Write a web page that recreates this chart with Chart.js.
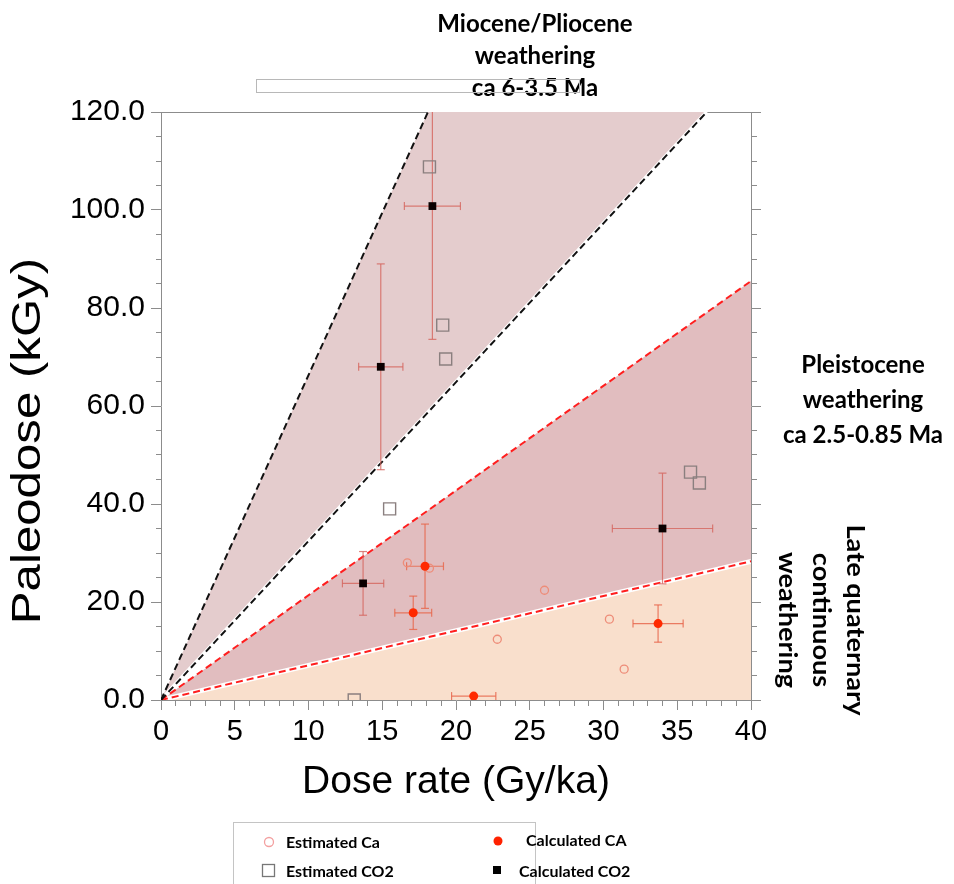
<!DOCTYPE html>
<html>
<head>
<meta charset="utf-8">
<title>Paleodose x Dose rate</title>
<script src="https://cdn.jsdelivr.net/npm/chart.js@4.4.1/dist/chart.umd.min.js"></script>
<style>
  html, body { margin: 0; padding: 0; background: #fff; }
  #grafico { display: block; }
</style>
</head>
<body>
<canvas id="grafico" width="954" height="884"></canvas>
<script>
// Dados
const calcCO2X = [18.4, 14.9, 13.7, 34.0];
const calcCO2Y = [100.8, 68.0, 23.8, 35.0];
const calcCO2ErrX = [1.9, 1.5, 1.4, 3.4];
const calcCO2ErrY = [27.2, 21.0, 6.5, 11.3];

const calcCaX = [17.9, 17.1, 21.2, 33.7];
const calcCaY = [27.3, 17.8, 0.8, 15.6];
const calcCaErrX = [1.25, 1.25, 1.5, 1.7];
const calcCaErrY = [8.6, 3.4, 0, 3.8];

const estCaX = [16.7, 18.2, 26.0, 22.8, 30.4, 31.4];
const estCaY = [28.0, 26.9, 22.4, 12.4, 16.5, 6.3];

const estCO2X = [18.2, 19.1, 19.3, 15.5, 35.9, 36.5, 13.1];
const estCO2Y = [108.8, 76.5, 69.6, 39.0, 46.5, 44.3, 0.0];

// linhas que saem da origem (ponto final de cada uma)
// 0 = Miocene sup, 1 = Miocene inf, 2 = Pleistocene sup, 3 = Pleistocene inf
const boundEndX = [18.1, 37.0, 40, 40];
const boundEndY = [120, 120, 85.5, 28.3];

const xTickLabels = [0, 5, 10, 15, 20, 25, 30, 35, 40];
const yTickLabels = [0, 20, 40, 60, 80, 100, 120];

// helpers
const pts = (xs, ys) => xs.map((x, i) => ({ x: x, y: ys[i] }));
const origem = { x: 0, y: 0 };
const fim = i => ({ x: boundEndX[i], y: boundEndY[i] });

function errorSegs(xs, ys, ex, ey) {
    const out = [];
    xs.forEach((x, i) => {
        out.push({ x: x - ex[i], y: ys[i], r: 90 }, { x: x + ex[i], y: ys[i], r: 90 }, { x: null, y: null });
        if (ey[i] > 0) {
            out.push({ x: x, y: ys[i] - ey[i], r: 0 }, { x: x, y: ys[i] + ey[i], r: 0 }, { x: null, y: null });
        }
    });
    return out;
}

function areaDs(data, color) {
    return { data: data, showLine: true, fill: 'shape', backgroundColor: color, borderWidth: 0, pointRadius: 0, order: 6 };
}

function lineDs(i, color, width, dash, order) {
    return { data: [origem, fim(i)], showLine: true, borderColor: color, borderWidth: width, borderDash: dash, pointRadius: 0, fill: false, order: order };
}

function errDs(data, color) {
    return {
        data: data, showLine: true, borderColor: color, borderWidth: 1.2, fill: false,
        pointStyle: 'line', pointRadius: 4, pointBorderColor: color, pointBorderWidth: 1.2,
        pointRotation: c => (c.raw && c.raw.r) || 0,
        clip: 0, order: 2
    };
}

const datasets = [
    // pontos
    { data: pts(calcCO2X, calcCO2Y), pointStyle: 'rect', pointRadius: 5.5, backgroundColor: '#0a0000', borderColor: '#0a0000', borderWidth: 0, order: 0 },
    { data: pts(calcCaX, calcCaY), pointStyle: 'circle', pointRadius: 4.5, backgroundColor: '#ff2a00', borderColor: '#ff2a00', borderWidth: 0, order: 0 },
    { data: pts(estCaX, estCaY), pointStyle: 'circle', pointRadius: 4, backgroundColor: 'rgba(0,0,0,0)', borderColor: '#ee8c78', borderWidth: 1.3, order: 1 },
    { data: pts(estCO2X, estCO2Y), pointStyle: 'rect', pointRadius: 8.5, backgroundColor: 'rgba(0,0,0,0)', borderColor: '#8a7f7f', borderWidth: 1.4, order: 1 },

    // barras de erro
    errDs(errorSegs(calcCO2X, calcCO2Y, calcCO2ErrX, calcCO2ErrY), 'rgba(212,100,92,0.8)'),
    errDs(errorSegs(calcCaX, calcCaY, calcCaErrX, calcCaErrY), 'rgba(232,104,78,0.85)'),

    // linhas tracejadas
    lineDs(0, '#111', 2, [7, 4], 3),
    lineDs(1, '#111', 2, [7, 4], 3),
    lineDs(2, '#ff1e1e', 2, [7, 4], 3),
    lineDs(3, '#ff1e1e', 2, [7, 4], 3),
    lineDs(1, '#ffffff', 4, [], 4),
    lineDs(3, '#ffffff', 5, [], 4),

    // areas
    areaDs([origem, fim(0), fim(1)], '#e4cccd'),
    areaDs([origem, fim(2), fim(3)], '#e1bdbf'),
    areaDs([origem, fim(3), { x: boundEndX[3], y: 0 }], '#f9dfcc')
];

const cinza = '#8c8c8c';

// textos soltos + legenda
const textos = {
    id: 'textos',
    afterDraw(chart) {
        const ctx = chart.ctx;
        ctx.save();
        ctx.fillStyle = '#000';
        ctx.textAlign = 'center';
        ctx.textBaseline = 'middle';

        // titulo do eixo y (esticado como no original)
        ctx.save();
        ctx.translate(29, 441);
        ctx.rotate(-Math.PI / 2);
        ctx.scale(1.2, 1);
        ctx.font = '41px "Liberation Sans", Arial, sans-serif';
        ctx.fillText('Paleodose (kGy)', 0, 0);
        ctx.restore();

        ctx.font = 'bold 24px Lato, "Open Sans", sans-serif';
        ['Miocene/Pliocene', 'weathering', 'ca 6-3.5 Ma'].forEach((t, i) => ctx.fillText(t, 535, 24 + i * 32));
        ['Pleistocene', 'weathering', 'ca 2.5-0.85 Ma'].forEach((t, i) => ctx.fillText(t, 863, 365 + i * 35));

        ['Late quaternary', 'continuous', 'weathering'].forEach((t, i) => {
            ctx.save();
            ctx.translate(855 - i * 34, 620);
            ctx.rotate(Math.PI / 2);
            ctx.scale(1.13, 1);
            ctx.fillText(t, 0, 0);
            ctx.restore();
        });

        // caixinha solta no topo
        ctx.strokeStyle = '#b8b8b8';
        ctx.lineWidth = 1;
        ctx.strokeRect(256.5, 79.5, 323, 13);

        // legenda
        ctx.strokeStyle = '#c4c4c4';
        ctx.strokeRect(233.5, 822.5, 302, 80);

        ctx.textAlign = 'left';
        ctx.font = 'bold 16px Lato, "Open Sans", sans-serif';
        ctx.fillText('Estimated Ca', 286, 843);
        ctx.fillText('Estimated CO2', 286, 872);
        ctx.fillText('Calculated CA', 526, 841);
        ctx.fillText('Calculated CO2', 519, 872);

        ctx.strokeStyle = '#f3a0a0';
        ctx.lineWidth = 1.3;
        ctx.beginPath();
        ctx.arc(269, 842, 4.5, 0, Math.PI * 2);
        ctx.stroke();

        ctx.strokeStyle = '#777';
        ctx.strokeRect(262.5, 864.5, 12, 12);

        ctx.fillStyle = '#ff2200';
        ctx.beginPath();
        ctx.arc(498, 841, 4.5, 0, Math.PI * 2);
        ctx.fill();

        ctx.fillStyle = '#000';
        ctx.fillRect(493, 866, 8, 8);

        ctx.restore();
    }
};

const tickFont = { family: '"Liberation Sans", Arial, sans-serif', size: 29 };

new Chart(document.getElementById('grafico'), {
    type: 'scatter',
    data: { datasets: datasets },
    options: {
        responsive: false,
        animation: false,
        devicePixelRatio: 1,
        events: [],
        layout: { padding: { top: 112, left: 0, right: 191, bottom: 78 } },
        plugins: { legend: { display: false }, tooltip: { enabled: false } },
        scales: {
            x: {
                type: 'linear', position: 'bottom', min: 0, max: 40,
                afterFit: s => { s.height = 106; },
                border: { display: true, color: cinza, width: 1 },
                grid: {
                    drawOnChartArea: false, tickLength: 10, tickColor: cinza, tickWidth: 1,
                    tickBorderDash: c => (c.tick && c.tick.value % 5 === 0) ? [] : [5, 100]
                },
                ticks: {
                    stepSize: 1, autoSkip: false, maxRotation: 0, padding: 5, color: '#000', font: tickFont,
                    callback: v => xTickLabels.includes(v) ? String(v) : ''
                },
                title: {
                    display: true, text: 'Dose rate (Gy/ka)', color: '#000', padding: 0,
                    font: { family: '"Liberation Sans", Arial, sans-serif', size: 39 }
                }
            },
            x2: {
                type: 'linear', position: 'top', min: 0, max: 40,
                afterFit: s => { s.height = 0; },
                border: { display: true, color: cinza, width: 1 },
                grid: { drawOnChartArea: false, drawTicks: false },
                ticks: { display: false }
            },
            y: {
                type: 'linear', position: 'left', min: 0, max: 120,
                afterFit: s => { s.width = 161; },
                border: { display: true, color: cinza, width: 1 },
                grid: {
                    drawOnChartArea: false, tickLength: 10, tickColor: cinza, tickWidth: 1,
                    tickBorderDash: c => (c.tick && c.tick.value % 20 === 0) ? [] : [0, 5, 5, 100]
                },
                ticks: {
                    stepSize: 5, autoSkip: false, padding: 6, color: '#000', font: { family: '"Liberation Sans", Arial, sans-serif', size: 30 },
                    callback: v => yTickLabels.includes(v) ? v.toFixed(1) : ''
                }
            },
            y2: {
                type: 'linear', position: 'right', min: 0, max: 120,
                afterFit: s => { s.width = 12; },
                border: { display: true, color: cinza, width: 1 },
                grid: {
                    drawOnChartArea: false, tickLength: 10, tickColor: cinza, tickWidth: 1,
                    tickBorderDash: c => (c.tick && c.tick.value % 20 === 0) ? [] : [5, 100]
                },
                ticks: { display: false, stepSize: 5 }
            }
        }
    },
    plugins: [textos]
});
</script>
</body>
</html>
